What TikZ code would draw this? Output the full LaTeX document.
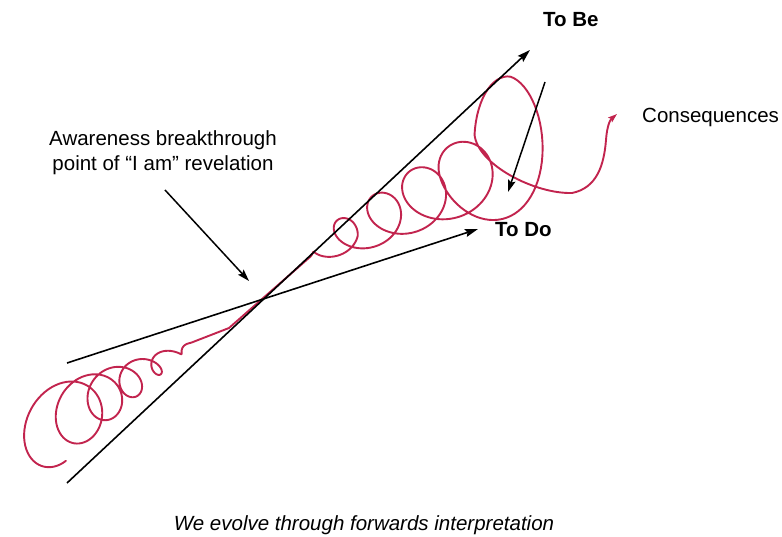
\documentclass[tikz,border=0pt]{standalone}
\usepackage{fontspec}
\setmainfont{Liberation Sans}
\usetikzlibrary{arrows.meta}
\definecolor{coil}{RGB}{194,36,78}
\begin{document}
\begin{tikzpicture}[x=1pt,y=-1pt,
  axisline/.style={line width=1.6pt, black, -{Stealth[length=13pt,width=8pt,inset=2pt]}},
  pointer/.style={line width=1.5pt, black, -{Stealth[length=12pt,width=7.5pt,inset=2pt]}},
  coilline/.style={line width=1.9pt, coil, line join=round, line cap=round},
  lbl/.style={font=\fontsize{20.5}{25}\selectfont, inner sep=0pt},
  boldlbl/.style={font=\fontsize{20.5}{25}\selectfont\bfseries, inner sep=0pt},
  itlbl/.style={font=\fontsize{20.5}{25}\selectfont\itshape, inner sep=0pt},
  declare function={
    sL(\x)=-245+30*\x;
    qL(\x)=max(0.001,(-sL(\x)-85)/160);
    ayL(\x)=42*exp(1.15*ln(qL(\x)));
    axL(\x)=33*exp(0.8*ln(qL(\x)));
    dxL(\x)=-axL(\x)*sin(360*\x);
    dyL(\x)=ayL(\x)*cos(360*\x);
    xL(\x)=264+0.857*sL(\x)+dxL(\x)*0.906-dyL(\x)*0.423;
    yL(\x)=299-0.515*sL(\x)+dxL(\x)*0.423+dyL(\x)*0.906;
    fR(\x)=min(1,\x/0.8);
    bR(\x)=min(0.8,max(0,\x-4.2));
    axR(\x)=fR(\x)*(15+5.5*\x+3*bR(\x));
    ayR(\x)=fR(\x)*(13+5.5*\x+50*bR(\x));
    xR(\x)=310+36*\x+0.8*\x*\x-axR(\x)*sin(360*\x);
    yR(\x)=257-20*\x-ayR(\x)*cos(360*\x);
  }]
\useasboundingbox (0,0) rectangle (782,537);

% coordinates
\coordinate (l1s) at (67,483);  \coordinate (l1e) at (530,50);
\coordinate (l2s) at (67,363);  \coordinate (l2e) at (478,229);
\coordinate (a1s) at (165,190); \coordinate (a1e) at (249,281);
\coordinate (b1s) at (545,82);  \coordinate (b1e) at (508,192);
\coordinate (m1) at (229,328);

% red coil
\draw[coilline, -{Stealth[length=9pt,width=6pt,inset=1.5pt]}]
  plot[domain=-0.16:5.33, samples=340, variable=\x] ({xL(\x)},{yL(\x)})
  -- (m1)
  -- plot[domain=0:5.22, samples=360, variable=\x] ({xR(\x)},{yR(\x)})
  .. controls (478,165) and (535,194) .. (572,193)
  .. controls (597,188) and (604,165) .. (606,140)
  .. controls (607,126) and (610,120) .. (617,114);

% black lines
\draw[axisline] (l1s) -- (l1e);
\draw[axisline] (l2s) -- (l2e);
\draw[pointer] (a1s) -- (a1e);
\draw[pointer] (b1s) -- (b1e);

% labels
\node[boldlbl, anchor=base west] (tobe) at (543,27) {To Be};
\node[boldlbl, anchor=base west] (todo) at (495,237) {To Do};
\node[lbl, anchor=base west] (cons) at (642,123) {Consequences};
\node[lbl, anchor=base] (aware1) at (163,145.5) {Awareness breakthrough};
\node[lbl, anchor=base] (aware2) at (163,170.5) {point of “I am” revelation};
\node[itlbl, anchor=base] (cap) at (364,530) {We evolve through forwards interpretation};
\end{tikzpicture}
\end{document}
